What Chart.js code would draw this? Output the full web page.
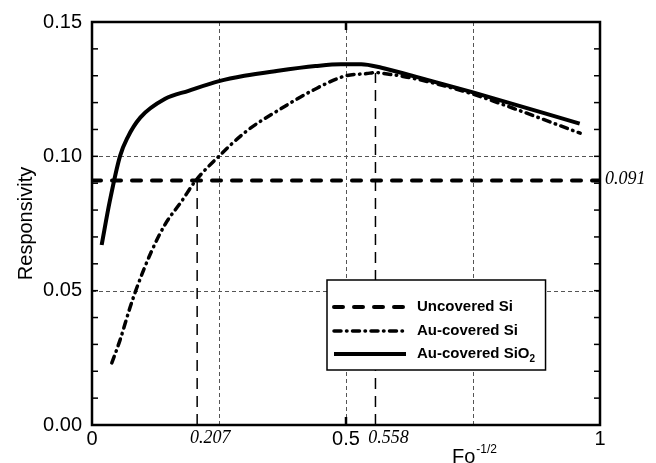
<!DOCTYPE html>
<html><head><meta charset="utf-8">
<script src="https://cdn.jsdelivr.net/npm/chart.js@4.4.0/dist/chart.umd.min.js"></script>
<style>html,body{margin:0;padding:0;background:#fff;} #wrap{width:656px;height:463px;position:relative;}</style>
</head><body><div id="wrap"><canvas id="c" width="656" height="463"></canvas></div>
<script>
// ---- data ----
const xSiO2 = [0.019, 0.035, 0.055, 0.070, 0.095, 0.144, 0.190, 0.250, 0.300, 0.360, 0.440, 0.490, 0.530, 0.570, 0.630, 0.750, 0.960];
const ySiO2 = [0.0670, 0.0833, 0.1000, 0.1070, 0.1144, 0.1214, 0.1244, 0.1280, 0.1300, 0.1317, 0.1336, 0.1343, 0.1343, 0.1330, 0.1300, 0.1238, 0.1122];
const xSi = [0.039, 0.055, 0.075, 0.088, 0.1175, 0.144, 0.1765, 0.203, 0.249, 0.305, 0.370, 0.436, 0.498, 0.541, 0.558, 0.573, 0.633, 0.744, 0.829, 0.961];
const ySi = [0.0231, 0.0315, 0.0438, 0.0510, 0.0648, 0.0747, 0.0833, 0.0907, 0.0999, 0.1095, 0.1175, 0.1247, 0.1299, 0.1308, 0.1312, 0.1309, 0.1290, 0.1235, 0.1179, 0.1086];
const uncoveredLevel = 0.091;
const uncoveredX = [0, 1];
const markX = [0.207, 0.558];
const markTop = [0.091, 0.131];
const markLabels = ['0.207', '0.558'];
const levelLabel = '0.091';
const xTickLabels = {'0': '0', '0.5': '0.5', '1': '1'};
const xGridValues = [0.25, 0.5, 0.75];
const yGridValues = [0.05, 0.10];
const seriesNames = ['Uncovered Si', 'Au-covered Si', 'Au-covered SiO'];
const seriesSub = ['', '', '2'];
const yTitle = 'Responsivity';
const xTitle = 'Fo';
const xTitleSup = '-1/2';

const pts = (xs, ys) => xs.map((x, i) => ({x, y: ys[i]}));

const SANS = '"Liberation Sans", Arial, sans-serif';
const SERIF = '"Liberation Serif", "Times New Roman", serif';

const styles = [
  {borderWidth: 4, borderDash: [9, 11], borderCapStyle: 'round'},
  {borderWidth: 3.5, borderDash: [7, 5.5, 0.5, 5.5], borderCapStyle: 'round'},
  {borderWidth: 4, borderDash: [], borderCapStyle: 'butt'}
];

const framePlugin = {
  id: 'frame',
  beforeDatasetsDraw(chart) {
    const {ctx, chartArea: a, scales: {x, y}} = chart;
    ctx.save();
    ctx.strokeStyle = '#555';
    ctx.lineWidth = 1;
    ctx.setLineDash([4, 3]);
    xGridValues.forEach(v => {
      const px = Math.round(x.getPixelForValue(v)) + 0.5;
      ctx.beginPath(); ctx.moveTo(px, a.top); ctx.lineTo(px, a.bottom); ctx.stroke();
    });
    yGridValues.forEach(v => {
      const py = Math.round(y.getPixelForValue(v)) + 0.5;
      ctx.beginPath(); ctx.moveTo(a.left, py); ctx.lineTo(a.right, py); ctx.stroke();
    });
    ctx.restore();
  },
  afterDatasetsDraw(chart) {
    const {ctx, chartArea: a, scales: {x, y}} = chart;
    ctx.save();
    // ticks
    ctx.strokeStyle = '#000';
    ctx.setLineDash([]);
    ctx.lineWidth = 1.5;
    for (let i = 1; i < 15; i++) {
      const py = y.getPixelForValue(i * 0.01);
      ctx.beginPath(); ctx.moveTo(a.left, py); ctx.lineTo(a.left + 6, py); ctx.stroke();
      ctx.beginPath(); ctx.moveTo(a.right, py); ctx.lineTo(a.right - 6, py); ctx.stroke();
    }
    ctx.lineWidth = 2.5;
    const p5 = x.getPixelForValue(0.5);
    ctx.beginPath(); ctx.moveTo(p5, a.bottom); ctx.lineTo(p5, a.bottom - 8); ctx.stroke();
    ctx.beginPath(); ctx.moveTo(p5, a.top); ctx.lineTo(p5, a.top + 8); ctx.stroke();
    // frame
    ctx.lineWidth = 2.5;
    ctx.strokeRect(a.left, a.top, a.right - a.left, a.bottom - a.top);

    // italic annotation labels
    ctx.fillStyle = '#000';
    ctx.font = 'italic 18px ' + SERIF;
    ctx.textBaseline = 'middle';
    ctx.textAlign = 'center';
    markX.forEach((v, i) => {
      ctx.fillText(markLabels[i], x.getPixelForValue(v) + 13, a.bottom + 13);
    });
    ctx.textAlign = 'left';
    ctx.fillText(levelLabel, a.right + 5, y.getPixelForValue(uncoveredLevel) - 1);

    // x title with superscript
    ctx.font = '20px ' + SANS;
    ctx.textBaseline = 'alphabetic';
    const tx = a.right - 148, ty = a.bottom + 38;
    ctx.fillText(xTitle, tx, ty);
    const w = ctx.measureText(xTitle).width;
    ctx.font = '12px ' + SANS;
    ctx.fillText(xTitleSup, tx + w + 1, ty - 10);

    // legend
    ctx.font = 'bold 15px ' + SANS;
    let maxW = 0;
    seriesNames.forEach((n, i) => {
      let ww = ctx.measureText(n).width;
      if (seriesSub[i]) ww += 7;
      maxW = Math.max(maxW, ww);
    });
    const lx = a.left + 235, ly = a.top + 258, lw = 90 + maxW + 9, lh = 90;
    ctx.fillStyle = '#fff';
    ctx.fillRect(lx, ly, lw, lh);
    ctx.strokeStyle = '#000';
    ctx.lineWidth = 1.5;
    ctx.strokeRect(lx, ly, lw, lh);
    const rows = [ly + 27, ly + 51, ly + 74];
    rows.forEach((ry, i) => {
      const s = styles[i];
      ctx.lineWidth = s.borderWidth;
      ctx.lineCap = s.borderCapStyle;
      ctx.setLineDash(s.borderDash);
      ctx.beginPath(); ctx.moveTo(lx + 7, ry); ctx.lineTo(lx + 79, ry); ctx.stroke();
      ctx.setLineDash([]);
      ctx.lineCap = 'butt';
      ctx.fillStyle = '#000';
      ctx.font = 'bold 15px ' + SANS;
      ctx.textBaseline = 'middle';
      ctx.textAlign = 'left';
      ctx.fillText(seriesNames[i], lx + 90, ry);
      if (seriesSub[i]) {
        const ww = ctx.measureText(seriesNames[i]).width;
        ctx.font = 'bold 10px ' + SANS;
        ctx.fillText(seriesSub[i], lx + 90 + ww, ry + 5);
      }
    });
    ctx.restore();
  }
};

const markDatasets = markX.map((v, i) => ({
  label: 'mark' + i,
  data: [{x: v, y: 0}, {x: v, y: markTop[i]}],
  borderColor: '#000', borderWidth: 1.5, borderDash: [11, 7],
  pointRadius: 0, fill: false, tension: 0
}));

new Chart(document.getElementById('c'), {
  type: 'line',
  data: {
    datasets: [
      Object.assign({label: seriesNames[0], data: pts(uncoveredX, uncoveredX.map(() => uncoveredLevel))}, styles[0]),
      Object.assign({label: seriesNames[1], data: pts(xSi, ySi), cubicInterpolationMode: 'monotone'}, styles[1]),
      Object.assign({label: seriesNames[2] + '2', data: pts(xSiO2, ySiO2), cubicInterpolationMode: 'monotone'}, styles[2]),
      ...markDatasets
    ].map(d => Object.assign({borderColor: '#000', pointRadius: 0, fill: false, borderJoinStyle: 'round'}, d))
  },
  options: {
    responsive: false,
    animation: false,
    devicePixelRatio: 1,
    layout: {padding: {top: 20, right: 56, left: 0, bottom: 0}},
    plugins: {legend: {display: false}, tooltip: {enabled: false}},
    scales: {
      x: {
        type: 'linear', min: 0, max: 1,
        grid: {display: false, drawTicks: false},
        border: {display: false},
        ticks: {
          stepSize: 0.25, autoSkip: false, maxRotation: 0, padding: 2,
          color: '#000', font: {family: SANS, size: 20},
          callback: v => xTickLabels[String(v)] !== undefined ? xTickLabels[String(v)] : ''
        },
        afterFit: s => { s.height = 38; }
      },
      y: {
        type: 'linear', min: 0, max: 0.15,
        grid: {display: false, drawTicks: false},
        border: {display: false},
        ticks: {
          stepSize: 0.05, padding: 10, color: '#000', font: {family: SANS, size: 20},
          callback: v => Number(v).toFixed(2)
        },
        title: {display: true, text: yTitle, color: '#000', font: {family: SANS, size: 20}, padding: {top: 14, bottom: 0}},
        afterFit: s => { s.width = 92; }
      }
    }
  },
  plugins: [framePlugin]
});
</script></body></html>
